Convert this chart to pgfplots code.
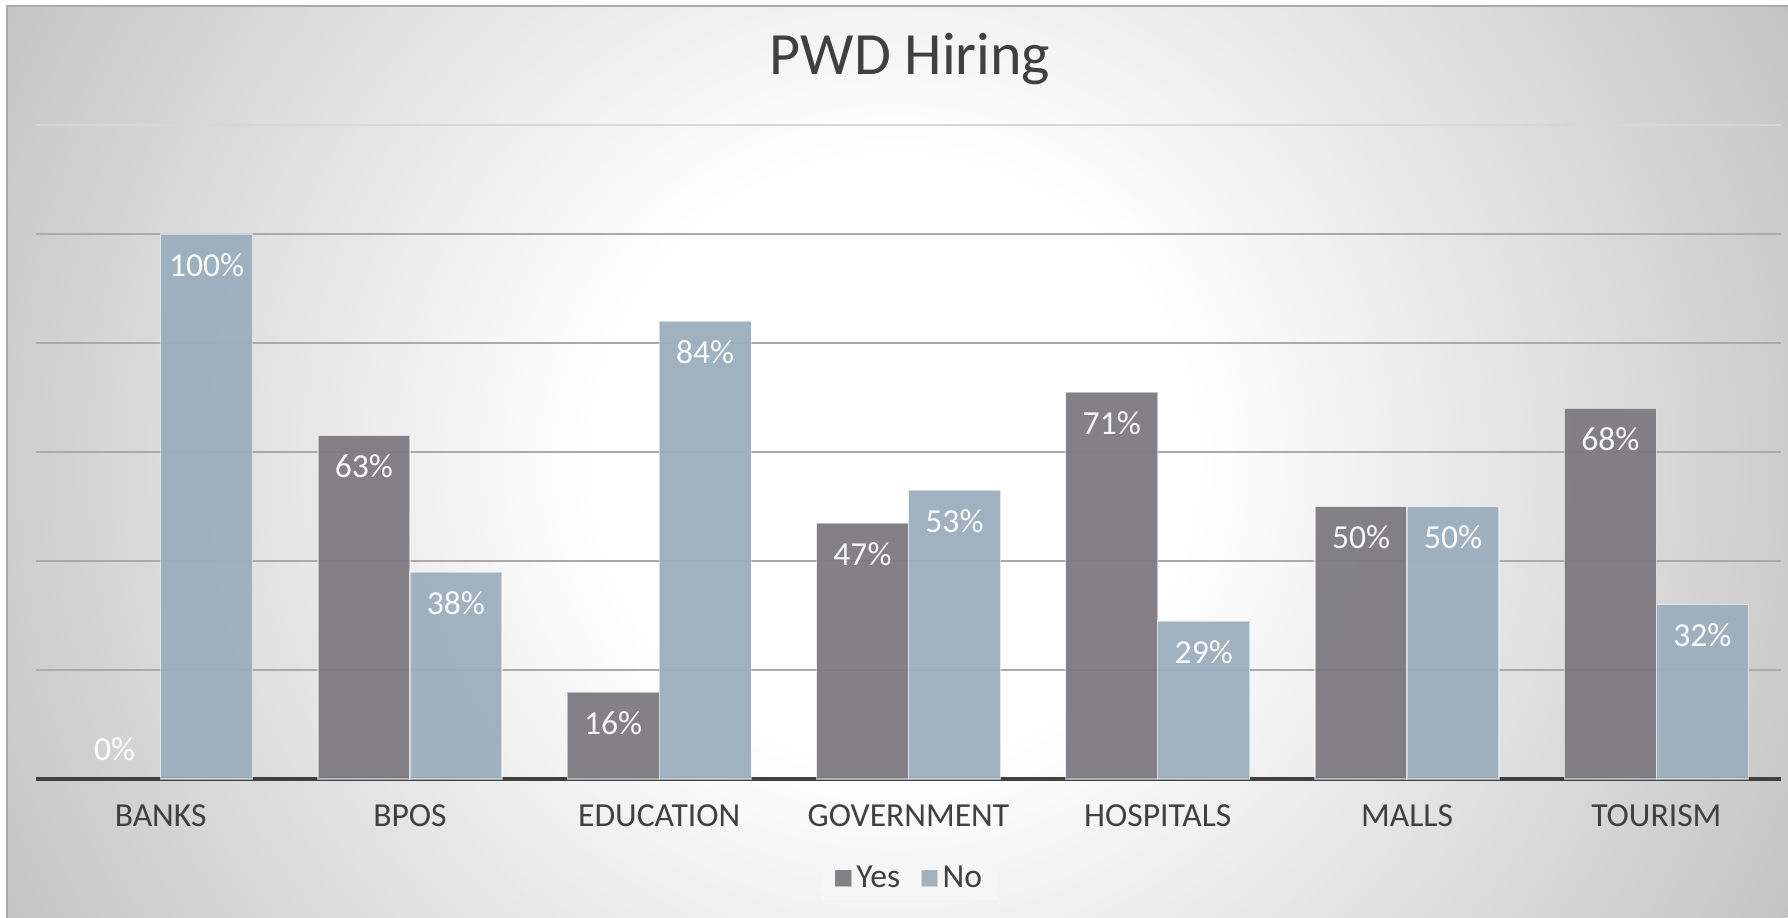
\documentclass[border=0pt]{standalone}
\usepackage{pgfplots}
\pgfplotsset{compat=1.18}
\usepackage{fontspec}
\setmainfont{Carlito}
\definecolor{yescol}{RGB}{124,122,128}
\definecolor{nocol}{RGB}{155,174,188}
\definecolor{txt}{RGB}{64,64,64}
\definecolor{bgout}{RGB}{196,196,196}
\definecolor{gridc}{RGB}{170,170,170}
\definecolor{gridtop}{RGB}{215,215,215}
\definecolor{legbg}{RGB}{246,246,246}
\pgfdeclareradialshading{chartbg}{\pgfpoint{0bp}{0bp}}{color(0bp)=(white); color(7.5bp)=(white); color(25bp)=(bgout); color(50bp)=(bgout)}
\begin{document}
\begin{tikzpicture}
\useasboundingbox (0,0) rectangle (894pt,458.5pt);
\fill[white] (0,0) rectangle (894pt,458.5pt);
\begin{scope}
\clip (3.5pt,0pt) rectangle (894pt,455.5pt);
\fill[bgout] (0,0) rectangle (894pt,458.5pt);
\shade[shading=chartbg] (447pt,229pt) circle (502pt);
\end{scope}
\draw[gridc, line width=0.6pt] (3.5pt,-1pt) -- (3.5pt,455.5pt) -- (895pt,455.5pt);
\node[font=\fontsize{30}{36}\selectfont, text=txt] at (455pt,429pt) {PWD Hiring};
\begin{axis}[
  at={(18pt,69pt)}, anchor=south west, scale only axis,
  width=872.5pt, height=327pt,
  xmin=-0.5, xmax=6.5, ymin=0, ymax=120,
  ybar, bar width=46pt,
  axis x line*=bottom, axis y line*=left,
  x axis line style={line width=2pt, color=txt, -},
  y axis line style={draw=none},
  xtick={0,1,2,3,4,5,6},
  xticklabels={BANKS,BPOS,EDUCATION,GOVERNMENT,HOSPITALS,MALLS,TOURISM},
  xticklabel style={font=\fontsize{16.8}{20}\selectfont, text=txt, anchor=center, yshift=-18.5pt},
  major tick length=0pt,
  ytick={0,20,40,60,80,100},
  yticklabels={},
  extra y ticks={120}, extra y tick labels={},
  extra y tick style={grid style={gridtop, line width=0.7pt}},
  ymajorgrids, grid style={gridc, line width=0.7pt},
  nodes near coords={\pgfmathprintnumber[assume math mode=true]{\pgfplotspointmeta}\%},
  every node near coord/.append style={font=\fontsize{16.8}{20}\selectfont, text=white, anchor=center, yshift=-15.5pt},
  legend style={at={(0.5009,-0.1514)}, anchor=center, fill=legbg, draw=none,
    font=\fontsize{16.8}{20}\selectfont, text=txt, legend columns=2,
    /tikz/every even column/.append style={column sep=8pt}, inner xsep=6pt, inner ysep=3pt},
  legend image code/.code={\fill[#1] (0pt,-4.25pt) rectangle (8.5pt,4.25pt);},
]
\addplot[fill=yescol, fill opacity=0.94, draw=white, draw opacity=0.5, line width=0.7pt, bar shift=-23pt]
  coordinates {(1,63) (2,16) (3,47) (4,71) (5,50) (6,68)};
\addplot[fill=nocol, fill opacity=0.94, draw=white, draw opacity=0.5, line width=0.7pt, bar shift=23pt]
  coordinates {(0,100) (1,38) (2,84) (3,53) (4,29) (5,50) (6,32)};
\addplot[forget plot, draw=none, fill=none, bar shift=-23pt,
  every node near coord/.append style={yshift=30.5pt}]
  coordinates {(0,0)};
\legend{Yes,No}
\end{axis}
\end{tikzpicture}
\end{document}
